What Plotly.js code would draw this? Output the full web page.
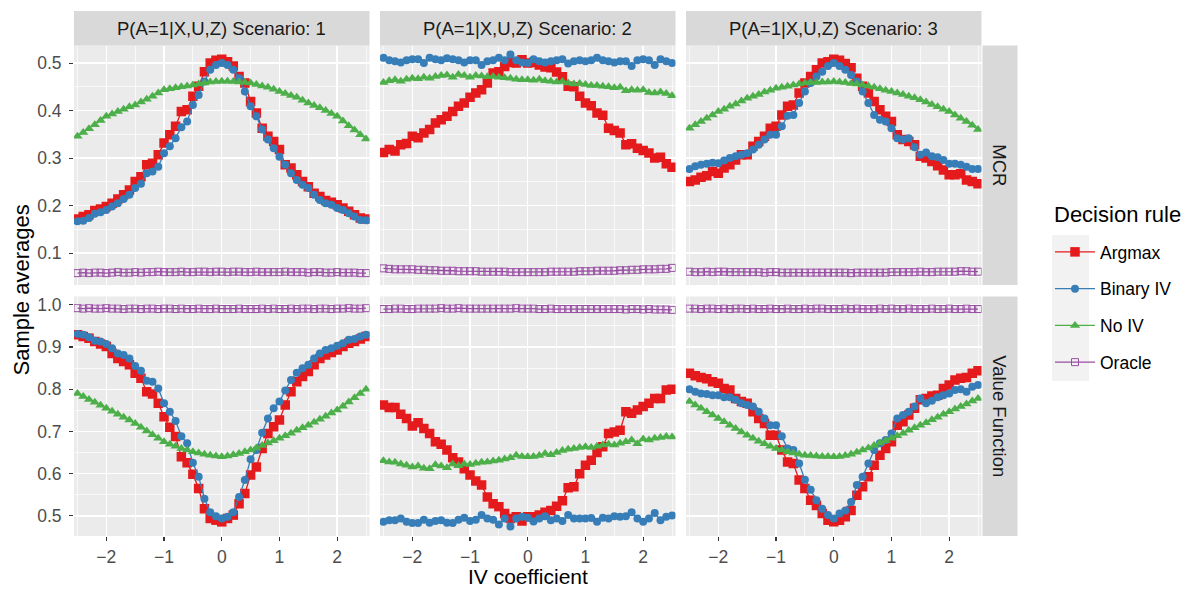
<!DOCTYPE html>
<html>
<head>
<meta charset="utf-8">
<script src="https://cdn.plot.ly/plotly-3.0.1.min.js"></script>
<style>html,body{margin:0;padding:0;background:#fff;}#chart{width:1190px;height:590px;}</style>
</head>
<body>
<div id="chart"></div>
<script>
// ---------------- data ----------------
const iv = [-2.5,-2.4,-2.3,-2.2,-2.1,-2.0,-1.9,-1.8,-1.7,-1.6,-1.5,-1.4,-1.3,-1.2,-1.1,-1.0,-0.9,-0.8,-0.7,-0.6,-0.5,-0.4,-0.3,-0.2,-0.1,0,0.1,0.2,0.3,0.4,0.5,0.6,0.7,0.8,0.9,1.0,1.1,1.2,1.3,1.4,1.5,1.6,1.7,1.8,1.9,2.0,2.1,2.2,2.3,2.4,2.5];
const rules = ['Argmax','Binary IV','No IV','Oracle'];
const scenarios = ['P(A=1|X,U,Z) Scenario: 1','P(A=1|X,U,Z) Scenario: 2','P(A=1|X,U,Z) Scenario: 3'];
const measures = ['MCR','Value Function'];
const legendTitle = 'Decision rule';

// MCR, scenario 1
const mcr_argmax_s1 = [0.172,0.177,0.181,0.190,0.193,0.198,0.205,0.214,0.223,0.233,0.251,0.261,0.286,0.289,0.307,0.332,0.349,0.367,0.398,0.402,0.430,0.451,0.482,0.500,0.506,0.508,0.503,0.494,0.472,0.458,0.419,0.395,0.363,0.346,0.335,0.318,0.286,0.279,0.265,0.251,0.240,0.226,0.219,0.211,0.207,0.202,0.195,0.188,0.181,0.174,0.172];
const mcr_binary_s1 = [0.167,0.168,0.174,0.183,0.186,0.191,0.198,0.205,0.214,0.223,0.237,0.246,0.268,0.272,0.282,0.310,0.325,0.342,0.365,0.377,0.412,0.433,0.461,0.486,0.496,0.500,0.496,0.486,0.468,0.440,0.409,0.388,0.360,0.339,0.321,0.303,0.286,0.268,0.254,0.244,0.237,0.223,0.212,0.205,0.202,0.195,0.191,0.184,0.177,0.170,0.169];
const mcr_noiv_s1 = [0.346,0.354,0.362,0.370,0.379,0.388,0.393,0.398,0.403,0.408,0.412,0.418,0.424,0.430,0.437,0.444,0.446,0.448,0.450,0.452,0.454,0.456,0.458,0.460,0.461,0.462,0.462,0.461,0.460,0.459,0.458,0.455,0.452,0.449,0.445,0.440,0.436,0.432,0.428,0.422,0.416,0.411,0.406,0.400,0.394,0.388,0.378,0.368,0.359,0.349,0.340];
const mcr_oracle_s1 = [0.058,0.059,0.058,0.059,0.059,0.058,0.059,0.060,0.059,0.059,0.060,0.059,0.060,0.060,0.061,0.060,0.060,0.060,0.061,0.060,0.060,0.061,0.061,0.060,0.061,0.061,0.060,0.061,0.061,0.060,0.060,0.061,0.060,0.060,0.060,0.060,0.061,0.060,0.060,0.060,0.059,0.060,0.060,0.059,0.059,0.060,0.059,0.059,0.059,0.058,0.058];

// MCR, scenario 2
const mcr_argmax_s2 = [0.312,0.318,0.315,0.328,0.331,0.346,0.343,0.353,0.360,0.374,0.381,0.388,0.398,0.409,0.416,0.428,0.437,0.444,0.458,0.479,0.482,0.493,0.501,0.500,0.507,0.500,0.501,0.496,0.492,0.490,0.481,0.471,0.451,0.450,0.430,0.416,0.410,0.395,0.390,0.363,0.358,0.353,0.328,0.330,0.321,0.316,0.311,0.300,0.302,0.288,0.281];
const mcr_binary_s2 = [0.511,0.506,0.504,0.501,0.506,0.508,0.508,0.500,0.511,0.508,0.506,0.510,0.508,0.506,0.501,0.506,0.506,0.496,0.504,0.506,0.511,0.506,0.518,0.506,0.501,0.500,0.508,0.504,0.501,0.504,0.506,0.508,0.499,0.504,0.506,0.504,0.506,0.511,0.506,0.504,0.501,0.504,0.504,0.494,0.506,0.508,0.506,0.496,0.508,0.504,0.500];
const mcr_noiv_s2 = [0.459,0.463,0.465,0.462,0.466,0.468,0.467,0.470,0.468,0.472,0.474,0.475,0.470,0.476,0.474,0.470,0.474,0.473,0.471,0.472,0.470,0.469,0.468,0.466,0.465,0.465,0.464,0.466,0.463,0.462,0.460,0.461,0.458,0.456,0.457,0.455,0.453,0.453,0.451,0.450,0.448,0.449,0.442,0.444,0.443,0.444,0.438,0.437,0.439,0.436,0.431];
const mcr_oracle_s2 = [0.068,0.067,0.066,0.066,0.066,0.066,0.065,0.065,0.064,0.064,0.063,0.063,0.063,0.062,0.062,0.062,0.062,0.061,0.061,0.061,0.061,0.061,0.060,0.060,0.060,0.060,0.060,0.060,0.060,0.061,0.061,0.061,0.061,0.061,0.062,0.062,0.062,0.063,0.063,0.063,0.063,0.064,0.064,0.065,0.065,0.066,0.066,0.066,0.067,0.067,0.069];

// MCR, scenario 3
const mcr_argmax_s3 = [0.251,0.254,0.260,0.263,0.272,0.268,0.279,0.286,0.296,0.307,0.307,0.325,0.335,0.346,0.363,0.367,0.391,0.409,0.412,0.437,0.458,0.472,0.486,0.500,0.503,0.508,0.506,0.499,0.490,0.468,0.451,0.437,0.419,0.402,0.388,0.377,0.349,0.339,0.335,0.328,0.304,0.300,0.293,0.284,0.275,0.265,0.265,0.267,0.254,0.251,0.246];
const mcr_binary_s3 = [0.277,0.283,0.286,0.288,0.290,0.289,0.295,0.300,0.304,0.307,0.310,0.318,0.328,0.339,0.349,0.349,0.367,0.389,0.391,0.416,0.440,0.458,0.472,0.482,0.494,0.500,0.494,0.486,0.475,0.461,0.440,0.416,0.391,0.381,0.377,0.363,0.342,0.339,0.342,0.323,0.307,0.312,0.304,0.302,0.296,0.288,0.288,0.286,0.282,0.277,0.277];
const mcr_noiv_s3 = [0.363,0.370,0.377,0.384,0.391,0.398,0.403,0.409,0.414,0.420,0.426,0.430,0.434,0.439,0.443,0.447,0.449,0.451,0.454,0.456,0.458,0.459,0.459,0.460,0.460,0.461,0.460,0.459,0.457,0.456,0.454,0.452,0.449,0.446,0.443,0.440,0.437,0.434,0.430,0.427,0.423,0.418,0.413,0.408,0.403,0.398,0.391,0.384,0.377,0.369,0.360];
const mcr_oracle_s3 = [0.061,0.060,0.060,0.061,0.060,0.061,0.061,0.060,0.060,0.060,0.060,0.060,0.060,0.059,0.060,0.060,0.059,0.059,0.059,0.059,0.059,0.059,0.059,0.059,0.059,0.059,0.059,0.059,0.058,0.059,0.059,0.059,0.059,0.059,0.059,0.060,0.060,0.060,0.060,0.060,0.061,0.060,0.060,0.061,0.061,0.061,0.061,0.062,0.062,0.061,0.061];

// Value function, scenario 1
const vf_argmax_s1 = [0.929,0.925,0.921,0.913,0.907,0.901,0.885,0.873,0.866,0.858,0.838,0.826,0.794,0.789,0.767,0.735,0.710,0.688,0.640,0.626,0.599,0.565,0.517,0.494,0.490,0.486,0.494,0.502,0.529,0.553,0.597,0.616,0.660,0.695,0.711,0.727,0.763,0.794,0.818,0.830,0.842,0.858,0.873,0.881,0.887,0.893,0.901,0.909,0.913,0.919,0.925];
const vf_binary_s1 = [0.931,0.929,0.923,0.915,0.913,0.907,0.897,0.885,0.881,0.873,0.855,0.844,0.820,0.818,0.802,0.767,0.747,0.725,0.689,0.672,0.626,0.593,0.541,0.509,0.499,0.494,0.498,0.509,0.545,0.585,0.634,0.656,0.697,0.731,0.755,0.771,0.797,0.822,0.839,0.850,0.858,0.873,0.885,0.893,0.897,0.903,0.909,0.917,0.919,0.925,0.929];
const vf_noiv_s1 = [0.790,0.783,0.776,0.769,0.762,0.755,0.748,0.741,0.734,0.727,0.719,0.710,0.701,0.692,0.684,0.676,0.670,0.665,0.660,0.656,0.652,0.649,0.646,0.644,0.642,0.640,0.642,0.645,0.648,0.652,0.656,0.661,0.667,0.673,0.678,0.684,0.690,0.696,0.703,0.709,0.715,0.722,0.729,0.736,0.744,0.751,0.760,0.770,0.780,0.790,0.800];
const vf_oracle_s1 = [0.992,0.991,0.992,0.991,0.991,0.992,0.991,0.991,0.990,0.991,0.991,0.990,0.991,0.991,0.990,0.991,0.991,0.990,0.991,0.990,0.990,0.991,0.990,0.990,0.991,0.990,0.990,0.990,0.991,0.990,0.990,0.990,0.991,0.990,0.991,0.990,0.990,0.991,0.990,0.991,0.991,0.990,0.991,0.991,0.990,0.991,0.991,0.992,0.991,0.991,0.992];

// Value function, scenario 2
const vf_argmax_s2 = [0.763,0.757,0.757,0.741,0.731,0.713,0.721,0.707,0.695,0.676,0.670,0.656,0.638,0.628,0.612,0.597,0.583,0.573,0.545,0.529,0.522,0.506,0.494,0.498,0.488,0.498,0.498,0.502,0.509,0.513,0.523,0.536,0.567,0.569,0.600,0.620,0.632,0.650,0.664,0.695,0.699,0.703,0.747,0.743,0.751,0.759,0.767,0.778,0.778,0.798,0.800];
const vf_binary_s2 = [0.486,0.490,0.490,0.494,0.486,0.483,0.483,0.491,0.484,0.488,0.490,0.484,0.483,0.491,0.496,0.488,0.491,0.502,0.494,0.491,0.480,0.494,0.475,0.494,0.498,0.496,0.487,0.494,0.499,0.490,0.494,0.488,0.502,0.494,0.494,0.494,0.495,0.486,0.496,0.494,0.499,0.498,0.499,0.509,0.494,0.486,0.494,0.507,0.490,0.498,0.501];
const vf_noiv_s2 = [0.631,0.628,0.627,0.623,0.620,0.616,0.618,0.613,0.612,0.621,0.618,0.614,0.623,0.619,0.623,0.622,0.625,0.627,0.628,0.630,0.632,0.635,0.638,0.644,0.641,0.640,0.641,0.643,0.648,0.645,0.650,0.655,0.658,0.660,0.662,0.664,0.662,0.665,0.668,0.670,0.668,0.672,0.676,0.680,0.671,0.682,0.680,0.684,0.686,0.688,0.687];
const vf_oracle_s2 = [0.990,0.990,0.991,0.991,0.990,0.990,0.991,0.991,0.991,0.991,0.992,0.991,0.991,0.992,0.991,0.991,0.991,0.991,0.991,0.991,0.991,0.991,0.991,0.992,0.991,0.991,0.991,0.990,0.990,0.991,0.990,0.990,0.990,0.990,0.990,0.990,0.990,0.990,0.990,0.990,0.990,0.990,0.989,0.990,0.990,0.989,0.990,0.989,0.989,0.989,0.988];

// Value function, scenario 3
const vf_argmax_s3 = [0.838,0.832,0.828,0.825,0.818,0.814,0.802,0.798,0.778,0.771,0.767,0.747,0.731,0.719,0.691,0.691,0.656,0.628,0.624,0.585,0.565,0.537,0.525,0.506,0.490,0.486,0.490,0.498,0.513,0.549,0.569,0.593,0.620,0.644,0.660,0.676,0.715,0.723,0.739,0.755,0.775,0.778,0.784,0.786,0.802,0.810,0.822,0.826,0.828,0.838,0.844];
const vf_binary_s3 = [0.800,0.794,0.790,0.789,0.786,0.786,0.781,0.781,0.775,0.767,0.763,0.759,0.747,0.731,0.715,0.715,0.689,0.660,0.656,0.624,0.586,0.562,0.537,0.517,0.502,0.494,0.506,0.513,0.533,0.573,0.593,0.624,0.656,0.672,0.680,0.695,0.731,0.739,0.747,0.759,0.778,0.767,0.773,0.781,0.786,0.790,0.798,0.800,0.794,0.806,0.810];
const vf_noiv_s3 = [0.771,0.763,0.755,0.747,0.739,0.731,0.723,0.715,0.707,0.699,0.691,0.684,0.677,0.671,0.665,0.660,0.656,0.652,0.649,0.646,0.644,0.643,0.642,0.641,0.641,0.640,0.641,0.643,0.646,0.651,0.656,0.661,0.667,0.673,0.678,0.684,0.690,0.696,0.703,0.709,0.715,0.721,0.728,0.734,0.741,0.747,0.753,0.759,0.765,0.772,0.778];
const vf_oracle_s3 = [0.991,0.991,0.990,0.991,0.991,0.990,0.991,0.990,0.991,0.991,0.990,0.991,0.990,0.990,0.991,0.990,0.990,0.991,0.990,0.990,0.991,0.990,0.991,0.991,0.990,0.990,0.990,0.991,0.990,0.991,0.990,0.990,0.990,0.991,0.990,0.991,0.990,0.990,0.991,0.990,0.990,0.990,0.991,0.990,0.990,0.991,0.990,0.990,0.991,0.990,0.990];

// ---------------- assembly ----------------
const panelData = [
  [ [mcr_argmax_s1, mcr_binary_s1, mcr_noiv_s1, mcr_oracle_s1],
    [mcr_argmax_s2, mcr_binary_s2, mcr_noiv_s2, mcr_oracle_s2],
    [mcr_argmax_s3, mcr_binary_s3, mcr_noiv_s3, mcr_oracle_s3] ],
  [ [vf_argmax_s1, vf_binary_s1, vf_noiv_s1, vf_oracle_s1],
    [vf_argmax_s2, vf_binary_s2, vf_noiv_s2, vf_oracle_s2],
    [vf_argmax_s3, vf_binary_s3, vf_noiv_s3, vf_oracle_s3] ]
];

const W = 1190, H = 590;
const colors = ['#E41A1C','#377EB8','#4DAF4A','#984EA3'];
const symbols = ['square','circle','triangle-up','square-open'];
const msizes = [9.5, 8, 9, 7];
const FONT = 'Liberation Sans, Arial, Helvetica, sans-serif';
const SMALL = 17.5, STRIP = 18.5, BIG = 21;

const colPx = [[74,369.5],[380,675.5],[686,981.5]];
const rowPx = [[45.5,285],[296.5,536]];
const px2x = p => p / W;
const py2y = p => 1 - p / H;

const traces = [];
for (let r = 0; r < 2; r++) {
  for (let c = 0; c < 3; c++) {
    const idx = r * 3 + c + 1;
    const xa = idx === 1 ? 'x' : 'x' + idx;
    const ya = idx === 1 ? 'y' : 'y' + idx;
    for (let s = 0; s < 4; s++) {
      traces.push({
        type: 'scatter', mode: 'lines+markers',
        x: iv, y: panelData[r][c][s],
        xaxis: xa, yaxis: ya,
        name: rules[s], legendgroup: rules[s],
        showlegend: idx === 1,
        line: {color: colors[s], width: 1.3},
        marker: {color: colors[s], symbol: symbols[s], size: msizes[s],
                 line: {color: colors[s], width: s === 3 ? 1 : 0}},
        hoverinfo: 'x+y+name'
      });
    }
  }
}

const layout = {
  width: W, height: H,
  margin: {l: 0, r: 0, t: 0, b: 0},
  paper_bgcolor: '#FFFFFF', plot_bgcolor: '#EBEBEB',
  font: {family: FONT, color: '#4D4D4D'},
  showlegend: true,
  legend: {
    x: px2x(1050), y: py2y(234), xanchor: 'left', yanchor: 'top',
    bgcolor: 'rgba(0,0,0,0)',
    font: {size: SMALL, color: '#000000', family: FONT},
    traceorder: 'grouped', tracegroupgap: 11,
    itemwidth: 40
  },
  shapes: [],
  annotations: []
};

const yRanges = [[0.033, 0.537], [0.4525, 1.0197]];
const yTicks = [[0.1,0.2,0.3,0.4,0.5], [0.5,0.6,0.7,0.8,0.9,1.0]];

for (let r = 0; r < 2; r++) {
  for (let c = 0; c < 3; c++) {
    const idx = r * 3 + c + 1;
    const xk = idx === 1 ? 'xaxis' : 'xaxis' + idx;
    const yk = idx === 1 ? 'yaxis' : 'yaxis' + idx;
    const xa = idx === 1 ? 'x' : 'x' + idx;
    const ya = idx === 1 ? 'y' : 'y' + idx;
    layout[xk] = {
      domain: [px2x(colPx[c][0]), px2x(colPx[c][1])],
      anchor: ya, range: [-2.56, 2.56],
      tickvals: [-2,-1,0,1,2],
      showgrid: true, gridcolor: '#FFFFFF', gridwidth: 1.4,
      minor: {tickvals: [-2.5,-1.5,-0.5,0.5,1.5,2.5], showgrid: true, gridcolor: '#FFFFFF', gridwidth: 0.7, ticks: ''},
      zeroline: false, showline: false,
      showticklabels: r === 1,
      ticks: r === 1 ? 'outside' : '', ticklen: 4, tickwidth: 1.1, tickcolor: '#333333',
      ticklabelstandoff: 1,
      tickfont: {size: SMALL, color: '#4D4D4D', family: FONT},
      fixedrange: true
    };
    const mt = yTicks[r];
    const minorVals = mt.map(v => v - 0.05).concat([mt[mt.length-1] + 0.05]);
    layout[yk] = {
      domain: [py2y(rowPx[r][1]), py2y(rowPx[r][0])],
      anchor: xa, range: yRanges[r],
      tickvals: mt, tickformat: '.1f',
      showgrid: true, gridcolor: '#FFFFFF', gridwidth: 1.4,
      minor: {tickvals: minorVals, showgrid: true, gridcolor: '#FFFFFF', gridwidth: 0.7, ticks: ''},
      zeroline: false, showline: false,
      showticklabels: c === 0,
      ticks: c === 0 ? 'outside' : '', ticklen: 4, tickwidth: 1.1, tickcolor: '#333333',
      ticklabelstandoff: 4,
      tickfont: {size: SMALL, color: '#4D4D4D', family: FONT},
      fixedrange: true
    };
  }
}

// strips on top
for (let c = 0; c < 3; c++) {
  layout.shapes.push({type: 'rect', xref: 'paper', yref: 'paper', layer: 'below',
    x0: px2x(colPx[c][0]), x1: px2x(colPx[c][1]), y0: py2y(45.5), y1: py2y(11),
    fillcolor: '#D9D9D9', line: {width: 0}});
  layout.annotations.push({xref: 'paper', yref: 'paper',
    x: px2x((colPx[c][0] + colPx[c][1]) / 2), y: py2y(28.5),
    text: scenarios[c], showarrow: false, xanchor: 'center', yanchor: 'middle',
    font: {size: STRIP, color: '#1A1A1A', family: FONT}});
}
// strips on right
for (let r = 0; r < 2; r++) {
  layout.shapes.push({type: 'rect', xref: 'paper', yref: 'paper', layer: 'below',
    x0: px2x(982.5), x1: px2x(1017.5), y0: py2y(rowPx[r][1]), y1: py2y(rowPx[r][0]),
    fillcolor: '#D9D9D9', line: {width: 0}});
  layout.annotations.push({xref: 'paper', yref: 'paper',
    x: px2x(1000), y: py2y((rowPx[r][0] + rowPx[r][1]) / 2),
    text: measures[r], showarrow: false, textangle: 90, xanchor: 'center', yanchor: 'middle',
    font: {size: STRIP, color: '#1A1A1A', family: FONT}});
}
// legend key background
layout.shapes.push({type: 'rect', xref: 'paper', yref: 'paper', layer: 'above',
  x0: px2x(1052), x1: px2x(1089), y0: py2y(381), y1: py2y(235),
  fillcolor: '#F2F2F2', line: {width: 0}});
// legend title
layout.annotations.push({xref: 'paper', yref: 'paper', x: px2x(1052), y: py2y(214),
  text: legendTitle, showarrow: false, xanchor: 'left', yanchor: 'middle',
  font: {size: 22, color: '#000000', family: FONT}});

// axis titles
layout.annotations.push({xref: 'paper', yref: 'paper', x: px2x(527.5), y: py2y(576.5),
  text: 'IV coefficient', showarrow: false, xanchor: 'center', yanchor: 'middle',
  font: {size: BIG, color: '#000000', family: FONT}});
layout.annotations.push({xref: 'paper', yref: 'paper', x: px2x(21), y: py2y(290.5),
  text: 'Sample averages', showarrow: false, textangle: -90, xanchor: 'center', yanchor: 'middle',
  font: {size: 22, color: '#000000', family: FONT}});

Plotly.newPlot('chart', traces, layout, {displayModeBar: false, staticPlot: true});
</script>
</body>
</html>
